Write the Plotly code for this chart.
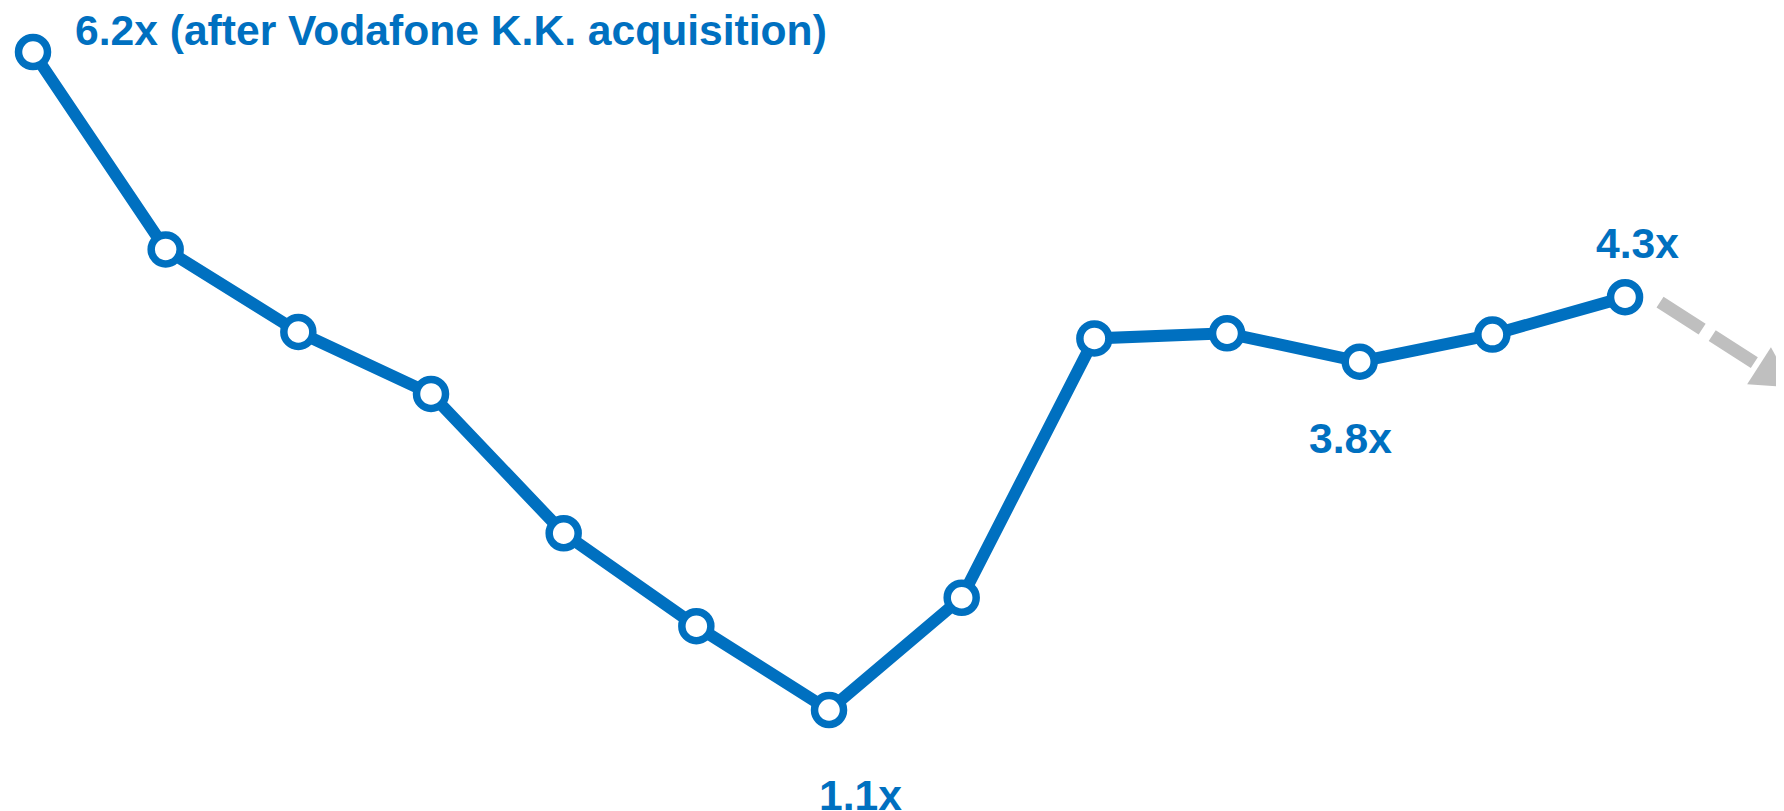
import plotly.graph_objects as go

# Data
periods = list(range(1, 14))
multiples = [6.2, 4.67, 4.03, 3.55, 2.47, 1.75, 1.1, 1.97, 3.98, 4.02, 3.8, 4.01, 4.3]

label_texts = ["6.2x (after Vodafone K.K. acquisition)", "1.1x", "3.8x", "4.3x"]
label_index = [0, 6, 10, 12]
label_shift_x = [40, 31, -9, 12]
label_shift_y = [22, -85, -76, 54]
label_anchor = ["left", "center", "center", "center"]

BLUE = "#0070C0"
GRAY = "#BFBFBF"
FONT = "Liberation Sans, Arial, sans-serif"

W, H = 1784, 811
PAGE_OFFSET = 8  # default body margin of the page
px_per_x = 132.67
px_per_y = 129.02
x_lo = 1 - (33 - PAGE_OFFSET) / px_per_x
x_hi = x_lo + W / px_per_x
y_hi = 6.2 + (52 - PAGE_OFFSET) / px_per_y
y_lo = y_hi - H / px_per_y

fig = go.Figure()
fig.add_trace(go.Scatter(
    x=periods, y=multiples, mode="lines+markers",
    line=dict(color=BLUE, width=12),
    marker=dict(symbol="circle", size=29, color="white",
                line=dict(color=BLUE, width=7.5)),
    cliponaxis=False, hoverinfo="skip", showlegend=False,
))

for t, i, dx, dy, anc in zip(label_texts, label_index, label_shift_x, label_shift_y, label_anchor):
    fig.add_annotation(
        x=periods[i], y=multiples[i], text=f"<b>{t}</b>", showarrow=False,
        xanchor=anc, yanchor="middle", xshift=dx, yshift=dy,
        font=dict(family=FONT, size=42.6, color=BLUE),
    )

# Trend arrow after the last point (pixel offsets from the last point)
lx, ly = periods[-1], multiples[-1]
fig.add_shape(
    type="line", xref="x", yref="y", xsizemode="pixel", ysizemode="pixel",
    xanchor=lx, yanchor=ly, x0=35, y0=-5, x1=134, y1=-68.5,
    line=dict(color=GRAY, width=13, dash="50px,12px"), layer="below",
)
fig.add_shape(
    type="path", xref="x", yref="y", xsizemode="pixel", ysizemode="pixel",
    xanchor=lx, yanchor=ly,
    path="M 122.1 -87 L 145.9 -50 L 168 -90.5 Z",
    fillcolor=GRAY, line=dict(color=GRAY, width=0),
)

fig.update_layout(
    width=W, height=H,
    margin=dict(l=0, r=0, t=0, b=0),
    paper_bgcolor="white", plot_bgcolor="white",
    xaxis=dict(range=[x_lo, x_hi], visible=False, fixedrange=True),
    yaxis=dict(range=[y_lo, y_hi], visible=False, fixedrange=True),
)

fig.write_html("out.html")
